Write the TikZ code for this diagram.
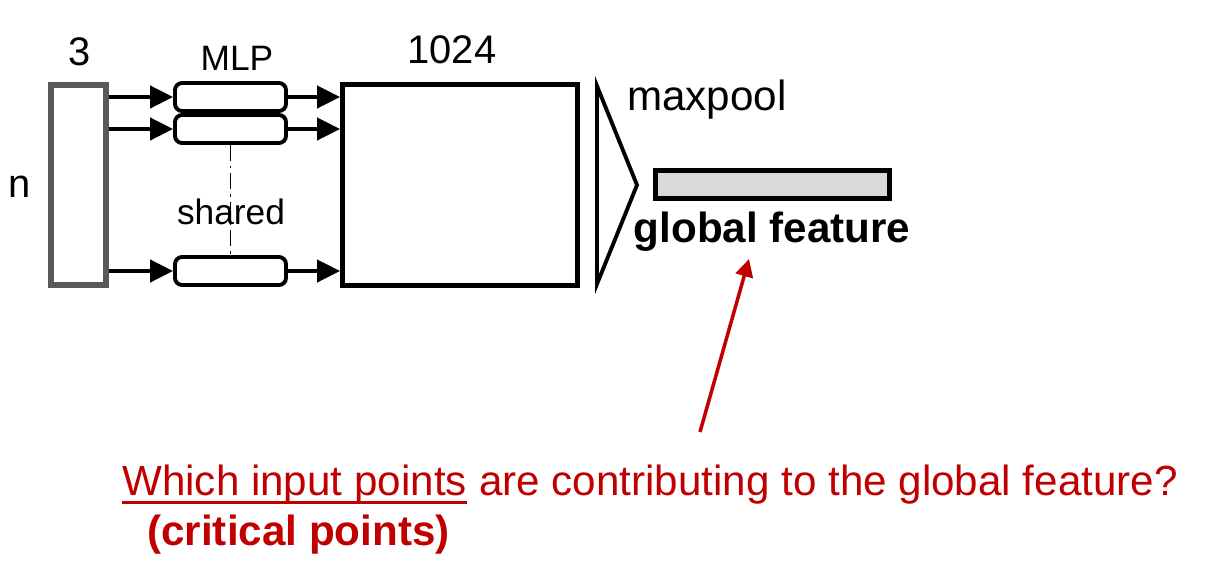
\documentclass[tikz,border=0pt]{standalone}
\usepackage{fontspec}
\setmainfont{Liberation Sans}
\usepackage{tikz}
\usetikzlibrary{arrows.meta}
\definecolor{critred}{HTML}{C00000}
\definecolor{ingray}{HTML}{595959}
\definecolor{barfill}{HTML}{D9D9D9}

\begin{document}
\begin{tikzpicture}[x=0.02cm, y=-0.02cm,
          inbox/.style={rectangle, draw=ingray, line width=3pt, minimum width=1.1cm,
                        minimum height=4cm, inner sep=0pt},
          mlp/.style={rectangle, rounded corners=4pt, draw, line width=2.2pt,
                      minimum width=2.22cm, minimum height=0.56cm, inner sep=0pt},
          big/.style={rectangle, draw, line width=2.8pt, minimum width=4.7cm,
                      minimum height=4.02cm, inner sep=0pt},
          gbar/.style={rectangle, draw, fill=barfill, line width=2.8pt,
                       minimum width=4.68cm, minimum height=0.56cm, inner sep=0pt},
          lbl/.style={inner sep=0pt, font=\fontsize{22.7pt}{26pt}\selectfont},
          sml/.style={inner sep=0pt, font=\fontsize{20.1pt}{24pt}\selectfont},
          txt/.style={inner sep=0pt, font=\fontsize{24pt}{28pt}\selectfont},
          arr/.style={-{Triangle[length=13pt, width=12.5pt]}, line width=2.2pt},
          rarr/.style={-{Triangle[length=10pt, width=10pt]}, line width=2pt, critred}
        ]
        \useasboundingbox (0,0) rectangle (1205,579);

        \node[inbox] (inp) at (78.5,185) {};
        \node[mlp] (m1) at (230.5,97) {};
        \node[mlp] (m2) at (230.5,129) {};
        \node[mlp] (m3) at (230.5,271) {};
        \node[big] (feat) at (460,185) {};
        \node[gbar] (gbar) at (772.5,184.5) {};

        \node[lbl] (three) at (80,52) {3};
        \node[lbl] (nn) at (20,187) {n};
        \node[sml] (mlplbl) at (237,58) {MLP};
        \node[lbl] (dim) at (452,50) {1024};
        \node[txt] (pool) at (707,100) {maxpool};
        \node[txt, font=\fontsize{24pt}{28pt}\selectfont\bfseries] (gf) at (772,232) {global feature};

        \draw[line width=1.1pt, dash pattern=on 9pt off 3pt on 1.2pt off 3pt] (m2.south) -- (m3.north);
        \node[sml] (shr) at (231,212) {shared};

        \foreach \m in {m1,m2,m3} {
          \draw[arr] (inp.east |- \m.west) -- (\m.west);
          \draw[arr] (\m.east) -- (feat.west |- \m.east);
        }

        \draw[line width=2.2pt] (597,86) -- (637,185) -- (597,284) -- cycle;

        \node[txt, text=critred, anchor=base west] (q1) at (122,495) {Which input points};
        \node[txt, text=critred, anchor=base west] (q2) at ([xshift=6.6pt]q1.base east) {are contributing to the global feature?};
        \draw[critred, line width=1.7pt] ([yshift=-4pt]q1.base west) -- ([yshift=-4pt]q1.base east);
        \node[txt, text=critred, font=\fontsize{24pt}{28pt}\selectfont\bfseries, anchor=base west] (crit) at (147,545) {(critical points)};

        \coordinate (qtail) at (700,432);
        \coordinate (gtip) at (749,259);
        \draw[rarr] (qtail) -- (gtip);
      \end{tikzpicture}
\end{document}
